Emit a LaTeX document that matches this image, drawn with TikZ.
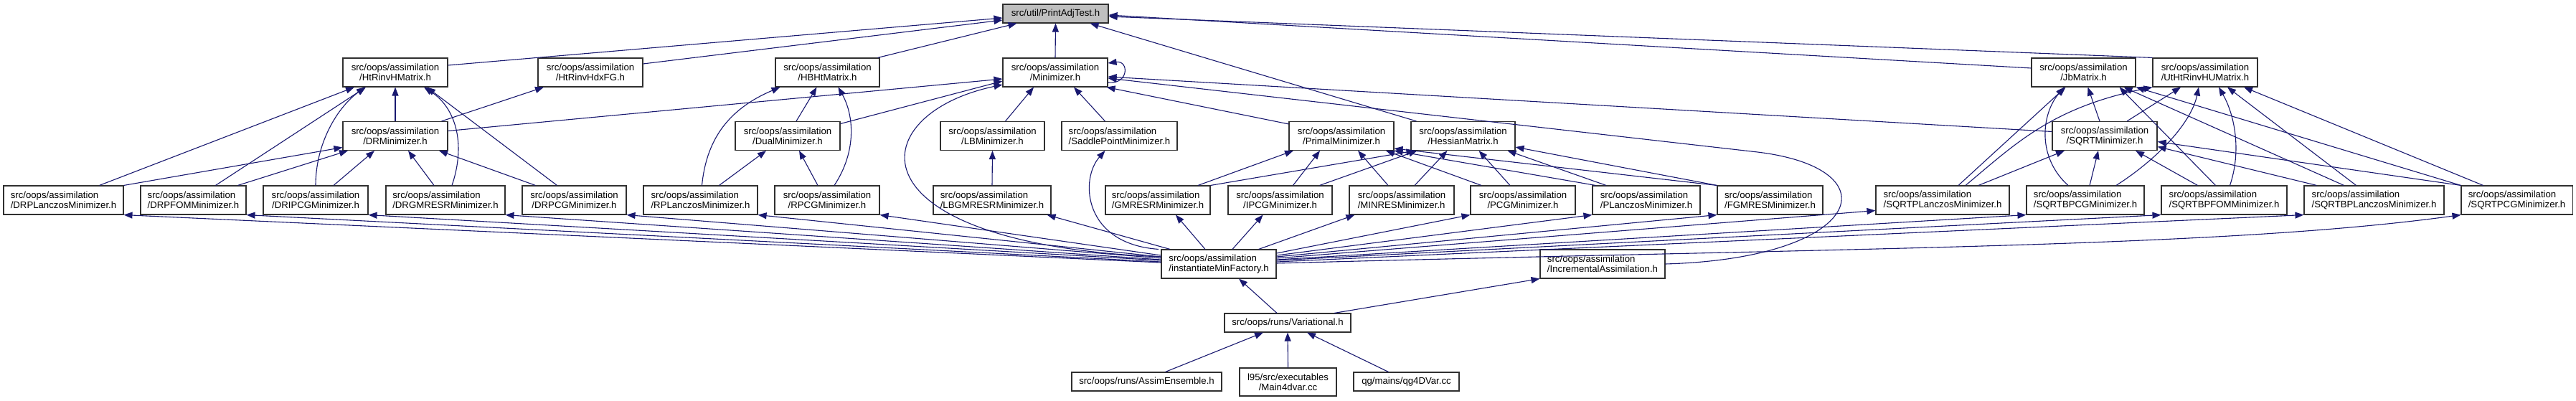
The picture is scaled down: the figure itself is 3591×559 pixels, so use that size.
\documentclass[tikz,border=0pt]{standalone}
\usepackage{fontspec}
\newfontfamily\lsans{Liberation Sans}
\usetikzlibrary{arrows.meta}
\definecolor{edgec}{HTML}{191970}
\definecolor{topfill}{HTML}{BFBFBF}
\definecolor{boxc}{HTML}{303030}
\newcommand\nfs{\lsans\fontsize{13.2}{14}\selectfont}
\tikzset{
  box/.style={draw=boxc, line width=1.1pt, fill=white, font=\nfs, inner xsep=3pt, inner ysep=2pt, align=center, minimum height=40pt},
  boxl/.style={box, align=left},
  one/.style={minimum height=26pt},
  e/.style={draw=edgec, line width=1.1pt, -{Triangle[length=12pt,width=9pt]}},
}
\begin{document}
\begin{tikzpicture}[x=1pt,y=-1pt]
\fill[white] (0,0) rectangle (3591,559);
\useasboundingbox (0,0) rectangle (3591,559);
% row 0
\node[box, one, fill=topfill, minimum width=147pt] (P) at (1471.5,19) {src/util/PrintAdjTest.h};
% row 1
\node[box, minimum width=146pt] (HtH) at (551,101) {src/oops/assimilation\\/HtRinvHMatrix.h};
\node[box, minimum width=146pt] (HdxFG) at (823,101) {src/oops/assimilation\\/HtRinvHdxFG.h};
\node[box, minimum width=145pt] (HBHt) at (1153.5,101) {src/oops/assimilation\\/HBHtMatrix.h};
\node[box, minimum width=146pt] (Min) at (1471,101) {src/oops/assimilation\\/Minimizer.h};
\node[box, minimum width=145pt] (Jb) at (2904.5,101) {src/oops/assimilation\\/JbMatrix.h};
\node[boxl, minimum width=146pt] (UtH) at (3074,101) {src/oops/assimilation\\/UtHtRinvHUMatrix.h};
% row 2
\node[box, minimum width=146pt] (DR) at (551,189.5) {src/oops/assimilation\\/DRMinimizer.h};
\node[box, minimum width=146pt] (Dual) at (1098,189.5) {src/oops/assimilation\\/DualMinimizer.h};
\node[box, minimum width=145pt] (LB) at (1383.5,189.5) {src/oops/assimilation\\/LBMinimizer.h};
\node[boxl, minimum width=161pt] (Saddle) at (1560.5,189.5) {src/oops/assimilation\\/SaddlePointMinimizer.h};
\node[box, minimum width=146pt] (Primal) at (1870,189.5) {src/oops/assimilation\\/PrimalMinimizer.h};
\node[box, minimum width=145pt] (Hess) at (2039.5,189.5) {src/oops/assimilation\\/HessianMatrix.h};
\node[box, minimum width=146pt] (SQRTMin) at (2934,189.5) {src/oops/assimilation\\/SQRTMinimizer.h};
% row 3
\node[boxl, minimum width=167pt] (DRPL) at (88.5,279) {src/oops/assimilation\\/DRPLanczosMinimizer.h};
\node[boxl, minimum width=147pt] (DRPFOM) at (269.5,279) {src/oops/assimilation\\/DRPFOMMinimizer.h};
\node[box, minimum width=146pt] (DRIPCG) at (440,279) {src/oops/assimilation\\/DRIPCGMinimizer.h};
\node[boxl, minimum width=166pt] (DRGMRESR) at (621,279) {src/oops/assimilation\\/DRGMRESRMinimizer.h};
\node[box, minimum width=145pt] (DRPCG) at (800.5,279) {src/oops/assimilation\\/DRPCGMinimizer.h};
\node[boxl, minimum width=159pt] (RPL) at (976.5,279) {src/oops/assimilation\\/RPLanczosMinimizer.h};
\node[box, minimum width=146pt] (RPCG) at (1153,279) {src/oops/assimilation\\/RPCGMinimizer.h};
\node[boxl, minimum width=164pt] (LBGMRESR) at (1383,279) {src/oops/assimilation\\/LBGMRESRMinimizer.h};
\node[boxl, minimum width=146pt] (GMRESR) at (1614,279) {src/oops/assimilation\\/GMRESRMinimizer.h};
\node[box, minimum width=145pt] (IPCG) at (1784.5,279) {src/oops/assimilation\\/IPCGMinimizer.h};
\node[boxl, minimum width=146pt] (MINRES) at (1954,279) {src/oops/assimilation\\/MINRESMinimizer.h};
\node[box, minimum width=146pt] (PCG) at (2123,279) {src/oops/assimilation\\/PCGMinimizer.h};
\node[boxl, minimum width=150pt] (PL) at (2295,279) {src/oops/assimilation\\/PLanczosMinimizer.h};
\node[boxl, minimum width=147pt] (FGMRES) at (2467.5,279) {src/oops/assimilation\\/FGMRESMinimizer.h};
\node[boxl, minimum width=186pt] (SQRTPL) at (2708,279) {src/oops/assimilation\\/SQRTPLanczosMinimizer.h};
\node[boxl, minimum width=164pt] (SQRTBPCG) at (2907,279) {src/oops/assimilation\\/SQRTBPCGMinimizer.h};
\node[boxl, minimum width=175pt] (SQRTBPFOM) at (3100.5,279) {src/oops/assimilation\\/SQRTBPFOMMinimizer.h};
\node[boxl, minimum width=195pt] (SQRTBPL) at (3309.5,279) {src/oops/assimilation\\/SQRTBPLanczosMinimizer.h};
\node[boxl, minimum width=155pt] (SQRTPCG) at (3508.5,279) {src/oops/assimilation\\/SQRTPCGMinimizer.h};
% row 4
\node[boxl, minimum width=160pt] (IMF) at (1699,368) {src/oops/assimilation\\/instantiateMinFactory.h};
\node[boxl, minimum width=174pt] (Incr) at (2234,368) {src/oops/assimilation\\/IncrementalAssimilation.h};
% row 5
\node[box, one, minimum width=176pt] (Var) at (1795,450) {src/oops/runs/Variational.h};
% row 6
\node[box, one, minimum width=209pt] (AE) at (1598.5,532) {src/oops/runs/AssimEnsemble.h};
\node[box, minimum width=135pt, minimum height=39pt] (M4) at (1795.5,532.5) {l95/src/executables\\/Main4dvar.cc};
\node[box, one, minimum width=147pt] (QG) at (1960.5,532) {qg/mains/qg4DVar.cc};

% edges into PrintAdjTest
\draw[e] ([yshift=10]HtH.east) -- ([yshift=-6]P.west);
\draw[e] ([yshift=12]HdxFG.east) -- ([yshift=-9]P.west);
\draw[e] ([xshift=-3]HBHt.north east) -- ([xshift=-54]P.south);
\draw[e] (Min.north) -- (P.south);
\draw[e] ([xshift=-65]Hess.north) -- ([xshift=48]P.south);
\draw[e] ([yshift=6]Jb.west) -- ([yshift=-2]P.east);
\draw[e] (UtH.north west) -- ([yshift=-4]P.east);
% edges into Minimizer
\draw[e] ([yshift=7]DR.east) -- ([yshift=-9]Min.west);
\draw[e] ([yshift=17]Dual.east) -- ([yshift=-12]Min.west);
\draw[e] ([yshift=10]IMF.west) .. controls (1180,340) and (1200,160) .. ([yshift=-17]Min.west);
\draw[e] ([xshift=18]LB.north) -- ([xshift=-30]Min.south);
\draw[e] ([xshift=-20]Saddle.north) -- ([xshift=26]Min.south);
\draw[e] ([yshift=-4]Primal.north west) -- ([xshift=-2]Min.south east);
\draw[e] ([yshift=6]SQRTMin.west) -- ([yshift=-6]Min.east);
\draw[e] (Incr.east) .. controls (2600,360) and (2640,235) .. (2450,212) -- ([yshift=-8]Min.east);
\draw[e] ([yshift=-14]Min.east) .. controls (1574,118) and (1574,84) .. ([yshift=13]Min.east);
% edges into HtRinvHMatrix
\draw[e] (DR.north) -- (HtH.south);
\draw[e] ([xshift=50]DRPL.north) -- ([xshift=-57]HtH.south);
\draw[e] ([xshift=31]DRPFOM.north) -- ([xshift=-41]HtH.south);
\draw[e] (DRIPCG.north) .. controls (440,200) and (470,150) .. ([xshift=-42]HtH.south);
\draw[e] ([xshift=9]DRGMRESR.north) .. controls (650,200) and (635,150) .. ([xshift=40]HtH.south);
\draw[e] ([xshift=-24]DRPCG.north) -- ([xshift=44]HtH.south);
% HtRinvHdxFG
\draw[e] ([xshift=-9]DR.north east) -- ([xshift=-65]HdxFG.south);
% edges into DRMinimizer
\draw[e] (DRPL.north east) -- ([yshift=-16]DR.west);
\draw[e] ([xshift=62]DRPFOM.north) -- ([xshift=-66]DR.south);
\draw[e] ([xshift=25]DRIPCG.north) -- ([xshift=-29]DR.south);
\draw[e] ([xshift=-16]DRGMRESR.north) -- ([xshift=18]DR.south);
\draw[e] ([xshift=-54]DRPCG.north) -- ([xshift=61]DR.south);
% HBHtMatrix
\draw[e] ([xshift=2]RPL.north) .. controls (985,190) and (1020,150) .. ([xshift=-66]HBHt.south);
\draw[e] ([xshift=12]Dual.north) -- ([xshift=-15]HBHt.south);
\draw[e] ([xshift=10]RPCG.north) .. controls (1195,210) and (1190,160) .. ([xshift=15]HBHt.south);
% DualMinimizer
\draw[e] ([xshift=26]RPL.north) -- ([xshift=-30]Dual.south);
\draw[e] ([xshift=-13]RPCG.north) -- ([xshift=16]Dual.south);
% LBMinimizer
\draw[e] (LBGMRESR.north) -- (LB.south);
% Primal and Hessian
\draw[e] ([xshift=56]GMRESR.north) -- ([xshift=-67]Primal.south);
\draw[e] (GMRESR.north east) -- ([xshift=-67]Hess.south);
\draw[e] ([xshift=18]IPCG.north) -- ([xshift=-30]Primal.south);
\draw[e] ([xshift=55]IPCG.north) -- ([xshift=-64]Hess.south);
\draw[e] ([xshift=-19]MINRES.north) -- ([xshift=23]Primal.south);
\draw[e] ([xshift=18]MINRES.north) -- ([xshift=-22]Hess.south);
\draw[e] ([xshift=-58]PCG.north) -- ([xshift=62]Primal.south);
\draw[e] ([xshift=-18]PCG.north) -- ([xshift=22]Hess.south);
\draw[e] ([xshift=5]PL.north west) -- (Primal.south east);
\draw[e] ([xshift=-56]PL.north) -- ([xshift=62]Hess.south);
\draw[e] (FGMRES.north west) -- ([yshift=3]Primal.south east);
\draw[e] (FGMRES.north west) -- ([yshift=5]Hess.south east);
% instantiateMinFactory
\draw[e] ([yshift=2]IMF.west) -- (DRPL.south east);
\draw[e] ([yshift=3]IMF.west) -- (DRPFOM.south east);
\draw[e] ([yshift=5]IMF.west) -- (DRIPCG.south east);
\draw[e] ([yshift=6]IMF.west) -- (DRGMRESR.south east);
\draw[e] ([yshift=8]IMF.west) -- (DRPCG.south east);
\draw[e] ([yshift=10]IMF.west) -- (RPL.south east);
\draw[e] ([yshift=12]IMF.west) -- (RPCG.south east);
\draw[e] ([xshift=-68]IMF.north) -- ([xshift=-6]LBGMRESR.south east);
\draw[e] ([xshift=-19]IMF.north) -- ([xshift=25]GMRESR.south);
\draw[e] ([xshift=19]IMF.north) -- ([xshift=-24]IPCG.south);
\draw[e] ([xshift=-25]IMF.north east) -- ([xshift=8]MINRES.south west);
\draw[e] ([yshift=15]IMF.east) -- (PCG.south west);
\draw[e] ([yshift=12]IMF.east) -- (PL.south west);
\draw[e] ([yshift=10]IMF.east) -- (FGMRES.south west);
\draw[e] ([yshift=8]IMF.east) -- ([yshift=6]SQRTPL.south west);
\draw[e] ([yshift=6]IMF.east) -- (SQRTBPCG.south west);
\draw[e] ([yshift=5]IMF.east) -- (SQRTBPFOM.south west);
\draw[e] ([yshift=3]IMF.east) -- (SQRTBPL.south west);
\draw[e] ([yshift=1]IMF.east) .. controls (2600,345) and (3100,345) .. (SQRTPCG.south west);
\draw[e] ([xshift=-84]IMF.north) .. controls (1510,340) and (1505,250) .. ([xshift=-20]Saddle.south);
% Variational
\draw[e] ([xshift=-15]Var.north) -- ([xshift=28]IMF.south);
\draw[e] ([xshift=65]Var.north) -- (Incr.south west);
\draw[e] ([xshift=26]AE.north) -- ([xshift=-34]Var.south);
\draw[e] (M4.north) -- (Var.south);
\draw[e] ([xshift=-25]QG.north) -- ([xshift=27]Var.south);
% JbMatrix
\draw[e] ([xshift=22]SQRTPL.north) -- ([xshift=-25]Jb.south);
\draw[e] ([xshift=-24]SQRTBPCG.north) .. controls (2840,220) and (2845,160) .. ([xshift=-27]Jb.south);
\draw[e] ([xshift=-7]SQRTMin.north) -- ([xshift=6]Jb.south);
\draw[e] ([xshift=-12]SQRTBPFOM.north) -- ([xshift=50]Jb.south);
\draw[e] ([xshift=-42]SQRTBPL.north) -- ([xshift=56]Jb.south);
\draw[e] (SQRTPCG.north west) -- (Jb.south east);
% UtHtRinvHUMatrix
\draw[e] ([xshift=32]SQRTPL.north) .. controls (2810,200) and (2860,150) .. (UtH.south west);
\draw[e] ([xshift=31]SQRTMin.north) -- ([xshift=-34]UtH.south);
\draw[e] ([xshift=43]SQRTBPCG.north) .. controls (3010,220) and (3055,170) .. ([xshift=-9]UtH.south);
\draw[e] ([xshift=8]SQRTBPFOM.north) .. controls (3125,210) and (3115,160) .. ([xshift=19]UtH.south);
\draw[e] ([xshift=-25]SQRTBPL.north) -- ([xshift=31]UtH.south);
\draw[e] ([xshift=-47]SQRTPCG.north) -- ([xshift=54]UtH.south);
% SQRTMinimizer
\draw[e] ([xshift=50]SQRTPL.north) -- ([xshift=-56]SQRTMin.south);
\draw[e] ([xshift=6]SQRTBPCG.north) -- ([xshift=-9]SQRTMin.south);
\draw[e] ([xshift=-37]SQRTBPFOM.north) -- ([xshift=43]SQRTMin.south);
\draw[e] ([xshift=-80]SQRTBPL.north) -- ([yshift=-15]SQRTMin.east);
\draw[e] (SQRTPCG.north west) -- ([yshift=-8]SQRTMin.east);
\end{tikzpicture}
\end{document}
